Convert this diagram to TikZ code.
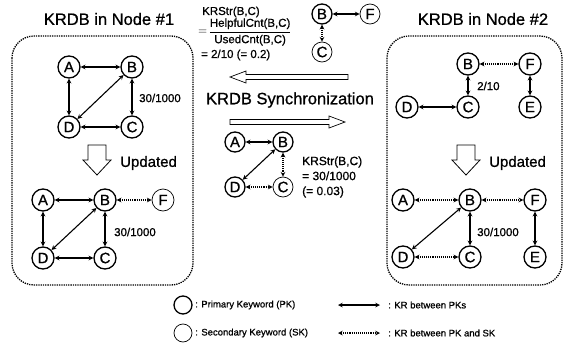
\documentclass[tikz,border=0pt]{standalone}
\usepackage{fontspec}
\setmainfont{Liberation Sans}[FakeBold=0.8]
\begin{document}
\begin{tikzpicture}[x=1pt, y=-1pt, >=stealth,
    pk/.style={circle, draw, line width=1.3pt, minimum size=22pt, inner sep=0pt, font=\fontsize{15}{15}\selectfont},
    sk/.style={pk, line width=0.7pt},
    kr/.style={<->, line width=1.1pt},
    krs/.style={<->, line width=1.1pt, densely dotted},
    lbl/.style={font=\fontsize{11.5}{13}\selectfont, anchor=west, inner sep=0pt},
    title/.style={font=\fontsize{16.5}{18}\selectfont},
    box/.style={draw, densely dotted, line width=1.3pt, rounded corners=22pt},
    hollow/.style={draw, line width=0.8pt, fill=white}]
  \useasboundingbox (0,0) rectangle (571,343);

  % KRDB in Node #1
  \node[title] (t1) at (109,19) {KRDB in Node \#1};
  \draw[box] (12,36) rectangle (193,285);
  \node[pk] (la) at (69,67) {A};
  \node[pk] (lb) at (132,67) {B};
  \node[pk] (lc) at (132,127) {C};
  \node[pk] (ld) at (69,127) {D};
  \draw[kr] (la) -- (lb);
  \draw[kr] (la) -- (ld);
  \draw[kr] (lb) -- (lc);
  \draw[kr] (lb) -- (ld);
  \draw[kr] (ld) -- (lc);
  \node[lbl] (lw) at (139,98) {30/1000};
  \draw[hollow] (88,145) -- (106,145) -- (106,160) -- (111,160) -- (97,175)
    -- (83,160) -- (88,160) -- cycle;
  \node[lbl, font=\fontsize{15}{15}\selectfont] (lu) at (120,163) {Updated};
  \node[pk] (ua) at (43,200) {A};
  \node[pk] (ub) at (105,200) {B};
  \node[sk] (uf) at (163,200) {F};
  \node[pk] (uc) at (105,258) {C};
  \node[pk] (ud) at (43,258) {D};
  \draw[kr] (ua) -- (ub);
  \draw[kr] (ua) -- (ud);
  \draw[krs] (ub) -- (uf);
  \draw[kr] (ub) -- (uc);
  \draw[kr] (ub) -- (ud);
  \draw[kr] (ud) -- (uc);
  \node[lbl] (uw) at (114,232) {30/1000};

  % synchronization in the middle
  \node[lbl] (s1) at (202,12) {KRStr(B,C)};
  \node[lbl] (s2) at (198,32) {$=\!\displaystyle\frac{\mbox{HelpfulCnt(B,C)}}{\mbox{UsedCnt(B,C)}}$};
  \node[lbl] (s3) at (201,55) {= 2/10 (= 0.2)};
  \node[pk, minimum size=20pt] (sb) at (322,14) {B};
  \node[sk, minimum size=20pt] (sf) at (370,14) {F};
  \node[sk, minimum size=20pt] (sc) at (322,52) {C};
  \draw[kr] (sb) -- (sf);
  \draw[krs] (sb) -- (sc);
  \draw[hollow, line width=0.7pt] (348,74.5) -- (246,74.5) -- (246,71) -- (230,77)
    -- (246,83) -- (246,79.5) -- (348,79.5) -- cycle;
  \node[title] (st) at (290,100) {KRDB Synchronization};
  \draw[hollow, line width=0.7pt] (230,119.5) -- (329,119.5) -- (329,116) -- (345,122)
    -- (329,128) -- (329,124.5) -- (230,124.5) -- cycle;
  \node[pk, minimum size=20pt] (ma) at (235,142) {A};
  \node[pk, minimum size=20pt] (mb) at (283,142) {B};
  \node[sk, minimum size=20pt] (mc) at (283,187) {C};
  \node[pk, minimum size=20pt] (md) at (235,187) {D};
  \draw[kr] (ma) -- (mb);
  \draw[kr] (mb) -- (md);
  \draw[krs] (mb) -- (mc);
  \draw[krs] (md) -- (mc);
  \node[lbl, align=left, font=\fontsize{12}{15}\selectfont] (mw) at (302,177)
    {KRStr(B,C)\\= 30/1000\\(= 0.03)};

  % KRDB in Node #2
  \node[title] (t2) at (483,19) {KRDB in Node \#2};
  \draw[box] (387,36) rectangle (562,285);
  \node[pk] (rb) at (468,64) {B};
  \node[pk] (rf) at (530,64) {F};
  \node[pk] (rd) at (407,107) {D};
  \node[pk] (rc) at (468,107) {C};
  \node[pk] (re) at (530,107) {E};
  \draw[krs] (rb) -- (rf);
  \draw[kr] (rb) -- (rc);
  \draw[kr] (rf) -- (re);
  \draw[kr] (rd) -- (rc);
  \node[lbl] (rw) at (477,86) {2/10};
  \draw[hollow] (457,145) -- (475,145) -- (475,160) -- (480,160) -- (466,175)
    -- (452,160) -- (457,160) -- cycle;
  \node[lbl, font=\fontsize{15}{15}\selectfont] (ru) at (489,163) {Updated};
  \node[pk] (va) at (403,200) {A};
  \node[pk] (vb) at (470,200) {B};
  \node[pk] (vf) at (535,200) {F};
  \node[pk] (vd) at (403,257) {D};
  \node[pk] (vc) at (470,257) {C};
  \node[pk] (ve) at (535,257) {E};
  \draw[krs] (va) -- (vb);
  \draw[krs] (vb) -- (vf);
  \draw[kr] (vb) -- (vd);
  \draw[kr] (vb) -- (vc);
  \draw[kr] (vf) -- (ve);
  \draw[krs] (vd) -- (vc);
  \node[lbl] (vw) at (477,232) {30/1000};

  % legend
  \node[pk, minimum size=18pt] (kp) at (183,305) {};
  \node[sk, minimum size=18pt] (ks) at (183,333) {};
  \node[lbl, font=\fontsize{9.5}{10}\selectfont] (kpt) at (195,305) {: Primary Keyword (PK)};
  \node[lbl, font=\fontsize{9.5}{10}\selectfont] (kst) at (195,333) {: Secondary Keyword (SK)};
  \coordinate (e1) at (338,305);
  \coordinate (e2) at (380,305);
  \coordinate (e3) at (338,333);
  \coordinate (e4) at (380,333);
  \draw[kr] (e1) -- (e2);
  \draw[krs] (e3) -- (e4);
  \node[lbl, font=\fontsize{9.5}{10}\selectfont] (ept) at (388,305) {: KR between PKs};
  \node[lbl, font=\fontsize{9.5}{10}\selectfont] (est) at (388,333) {: KR between PK and SK};
\end{tikzpicture}
\end{document}
